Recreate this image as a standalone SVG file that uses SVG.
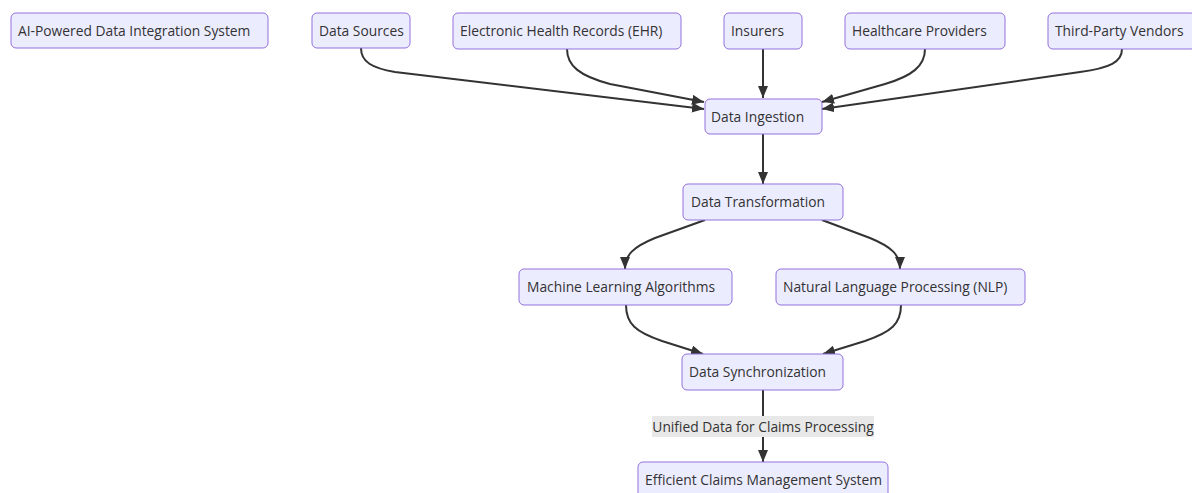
<svg xmlns="http://www.w3.org/2000/svg" width="1192" height="493" viewBox="0 0 1192 493">
<defs>
<style>
.node rect{fill:#ECECFF;stroke:#9370DB;stroke-width:1}
.node text{font-family:"Open Sans","DejaVu Sans",sans-serif;font-size:13.8px;fill:#333}
.edge{fill:none;stroke:#333;stroke-width:2}
.lbl{font-family:"Open Sans","DejaVu Sans",sans-serif;font-size:13.8px;fill:#333}
</style>
<marker id="arr" viewBox="0 0 12 10" refX="12" refY="5" markerWidth="12" markerHeight="10" markerUnits="userSpaceOnUse" orient="auto">
<path d="M0,0 L12,5 L0,10 z" fill="#333"/>
</marker>
</defs>
<rect width="1192" height="493" fill="#fff"/>
<g id="connectors">
<path class="edge" marker-end="url(#arr)" d="M361,48 C361,62 372,68 395,72 L704,109"/>
<path class="edge" marker-end="url(#arr)" d="M567,49 C567,66 580,76 610,84 L704,102"/>
<path class="edge" marker-end="url(#arr)" d="M763,49 L763,98"/>
<path class="edge" marker-end="url(#arr)" d="M925,49 C925,66 912,76 885,84 L822,102"/>
<path class="edge" marker-end="url(#arr)" d="M1122,49 C1122,62 1110,68 1080,72 L822,109"/>
<path class="edge" marker-end="url(#arr)" d="M763,134 L763,184"/>
<path class="edge" marker-end="url(#arr)" d="M705,220 L655,238 C633,247 625,255 625,269"/>
<path class="edge" marker-end="url(#arr)" d="M822,220 L870,238 C892,247 900,255 900,269"/>
<path class="edge" marker-end="url(#arr)" d="M626,305 C626,324 636,332 662,341 L703,354"/>
<path class="edge" marker-end="url(#arr)" d="M901,305 C901,324 891,332 865,341 L823,354"/>
<path class="edge" marker-end="url(#arr)" d="M763,390 L763,462"/>
<rect x="652" y="416" width="222" height="21" fill="#e8e8e8"/>
<text class="lbl" x="763" y="431.5" text-anchor="middle">Unified Data for Claims Processing</text>
</g>
<g id="ai" class="node"><rect x="11" y="13" width="257" height="35" rx="5"/><text x="18" y="35.5">AI-Powered Data Integration System</text></g>
<g id="sources" class="node"><rect x="312" y="13" width="98" height="35" rx="5"/><text x="319" y="35.5">Data Sources</text></g>
<g id="ehr" class="node"><rect x="453" y="13" width="228" height="36" rx="5"/><text x="460" y="35.5">Electronic Health Records (EHR)</text></g>
<g id="insurers" class="node"><rect x="724" y="13" width="78" height="36" rx="5"/><text x="731" y="35.5">Insurers</text></g>
<g id="providers" class="node"><rect x="845" y="13" width="160" height="36" rx="5"/><text x="852" y="35.5">Healthcare Providers</text></g>
<g id="vendors" class="node"><rect x="1048" y="13" width="148" height="36" rx="5"/><text x="1055" y="35.5">Third-Party Vendors</text></g>
<g id="ingestion" class="node"><rect x="705" y="99" width="117" height="35" rx="5"/><text x="711" y="121.5">Data Ingestion</text></g>
<g id="transformation" class="node"><rect x="683" y="184" width="160" height="36" rx="5"/><text x="691" y="206.5">Data Transformation</text></g>
<g id="ml" class="node"><rect x="519" y="269" width="213" height="36" rx="5"/><text x="527" y="291.5">Machine Learning Algorithms</text></g>
<g id="nlp" class="node"><rect x="776" y="269" width="249" height="36" rx="5"/><text x="783" y="291.5">Natural Language Processing (NLP)</text></g>
<g id="sync" class="node"><rect x="682" y="354" width="161" height="36" rx="5"/><text x="689" y="376.5">Data Synchronization</text></g>
<g id="efficient" class="node"><rect x="638" y="462" width="250" height="36" rx="5"/><text x="645" y="484.5">Efficient Claims Management System</text></g>
</svg>
